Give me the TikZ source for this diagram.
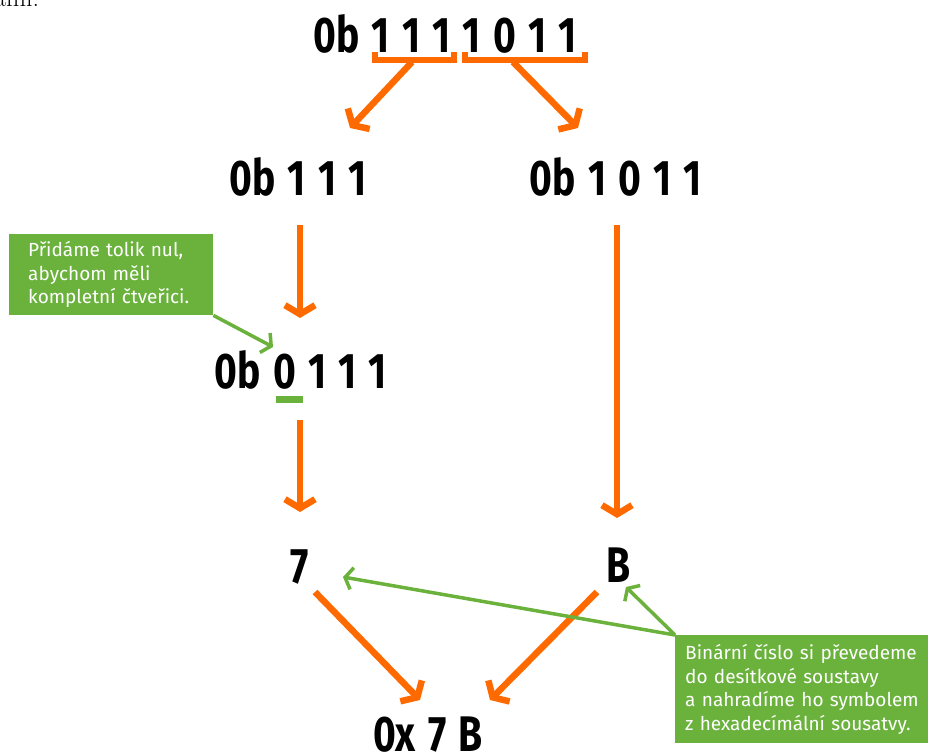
\documentclass[tikz,border=0pt]{standalone}
\usepackage{fontspec}
\usetikzlibrary{arrows.meta}
\newfontfamily\numfont[FakeStretch=0.78]{Fira Sans}
\newfontfamily\notefont{Fira Sans}
\newcommand\wsp{\kern3pt\relax\space}
\definecolor{arroworange}{HTML}{FF6A00}
\definecolor{notegreen}{HTML}{6AB23C}
\tikzset{
  num/.style={font=\numfont\bfseries\fontsize{50}{50}\selectfont, inner sep=0pt, anchor=base},
  note/.style={fill=notegreen, text=white, font=\notefont\fontsize{19}{23.5}\selectfont,
    align=left, anchor=north west, inner xsep=10pt, inner ysep=0pt},
  orangearrow/.style={draw=arroworange, line width=6.5pt, -{Straight Barb[length=9pt,width=30pt]}},
  greenarrow/.style={draw=notegreen, line width=3.5pt, -{Straight Barb[length=7pt,width=22pt]}}
}
\begin{document}
\begin{tikzpicture}[x=1pt,y=-1pt]
      \useasboundingbox (0,0) rectangle (928,754);
      \node[anchor=base west, inner sep=0pt, font=\fontsize{26}{26}\selectfont] (prev) at (-6,7) {ámi.};
      % numbers
      \node[num] (bin) at (445,53) {0b\wsp1\wsp1\wsp1\wsp1\wsp0\wsp1\wsp1};
      \node[num] (hi) at (298,196) {0b\wsp1\wsp1\wsp1};
      \node[num] (lo) at (616,196) {0b\wsp1\wsp0\wsp1\wsp1};
      \node[num] (hipad) at (301,388) {0b\wsp0\wsp1\wsp1\wsp1};
      \node[num] (seven) at (300,583) {7};
      \node[num] (bee) at (619,582) {B};
      \node[num] (hex) at (428,751) {0x\wsp7\wsp B};
      % notes
      \node[note, inner xsep=19pt, minimum width=204, minimum height=81, text width=166] (padnote) at (9,234)
        {Přidáme tolik nul,\\abychom měli\\kompletní čtveřici.};
      \node[note, minimum width=253, minimum height=108, text width=238] (hexnote) at (675,635)
        {Binární číslo si převedeme\\do desítkové soustavy\\a nahradíme ho symbolem\\z hexadecímální sousatvy.};
      % brackets and underline
      \draw[arroworange, line width=6pt] (375,52) -- (375,60) -- (454,60) -- (454,52);
      \draw[arroworange, line width=6pt] (465,52) -- (465,60) -- (585,60) -- (585,52);
      \draw[notegreen, line width=7pt] (276,399.5) -- (303,399.5);
      % arrow ends
      \coordinate (hiMid) at (412,62);
      \coordinate (loMid) at (513,62);
      \coordinate (hiTop) at (350,128);
      \coordinate (loTop) at (578,128);
      \coordinate (hiOut) at (300,225);
      \coordinate (hiIn) at (300,318);
      \coordinate (loOut) at (617,225);
      \coordinate (loIn) at (617,518);
      \coordinate (padOut) at (300,420);
      \coordinate (padIn) at (300,512);
      \coordinate (sevenOut) at (315,592);
      \coordinate (beeOut) at (597,592);
      \coordinate (hexL) at (420,700);
      \coordinate (hexR) at (490,700);
      \coordinate (zeroTip) at (273,347);
      \coordinate (sevenTip) at (343,577);
      \coordinate (beeTip) at (626,587);
      \begin{scope}[orangearrow]
        \draw (hiMid) to (hiTop);
        \draw (loMid) to (loTop);
        \draw (hiOut) to (hiIn);
        \draw (loOut) to (loIn);
        \draw (padOut) to (padIn);
        \draw (sevenOut) to (hexL);
        \draw (beeOut) to (hexR);
      \end{scope}
      \begin{scope}[greenarrow]
        \draw (padnote.south east) to (zeroTip);
        \draw (hexnote.north west) to (sevenTip);
        \draw (hexnote.north west) to (beeTip);
      \end{scope}
\end{tikzpicture}
\end{document}
